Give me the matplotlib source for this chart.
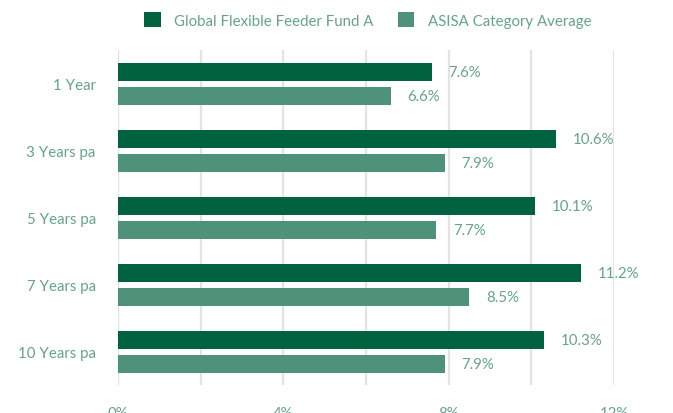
import numpy as np
import matplotlib.pyplot as plt

# data
periods = ['1 Year', '3 Years pa', '5 Years pa', '7 Years pa', '10 Years pa']
fund = [7.6, 10.6, 10.1, 11.2, 10.3]
category = [6.6, 7.9, 7.7, 8.5, 7.9]
series_names = ['Global Flexible Feeder Fund A', 'ASISA Category Average']
xtick_vals = [0, 2, 4, 6, 8, 10, 12]
xtick_labels = ['0%', '', '4%', '', '8%', '', '12%']

dark = '#00623F'
light = '#4E9379'
text_col = '#66A38A'
grid_col = '#E3E3E3'

plt.rcParams['font.family'] = ['Lato', 'DejaVu Sans']
fs = 10.8

fig = plt.figure(figsize=(6.73, 4.14), dpi=100)
ax = fig.add_axes([118/673, 1-386/414, (614-118)/673, 335/414])

y = np.arange(len(periods))
h = 0.27
b1 = ax.barh(y - 0.175, fund, height=h, color=dark, label=series_names[0], zorder=3)
b2 = ax.barh(y + 0.185, category, height=h, color=light, label=series_names[1], zorder=3)

# value labels
for bars, vals in ((b1, fund), (b2, category)):
    for bar, v in zip(bars, vals):
        ax.text(v + 0.4, bar.get_y() + bar.get_height()/2, f'{v:.1f}%',
                va='center', ha='left', fontsize=fs, color=text_col)

ax.set_xlim(0, 12)
ax.set_ylim(len(periods) - 0.5, -0.5)
ax.set_xticks(xtick_vals)
ax.set_xticklabels(xtick_labels)
ax.set_yticks(y)
ax.set_yticklabels(periods)
ax.grid(axis='x', color=grid_col, linewidth=1.6, zorder=0)
ax.tick_params(axis='both', length=0, labelsize=fs, labelcolor=text_col)
ax.tick_params(axis='x', pad=15)
ax.tick_params(axis='y', pad=16)
for s in ax.spines.values():
    s.set_visible(False)

leg = fig.legend(handles=[b1, b2], loc='center', bbox_to_anchor=(368/673, 1-21/414),
                 ncol=2, frameon=False, fontsize=fs, handlelength=1.1,
                 handleheight=1.1, handletextpad=0.9, columnspacing=1.6)
for t in leg.get_texts():
    t.set_color(text_col)

fig.savefig('out.png', dpi=100)
